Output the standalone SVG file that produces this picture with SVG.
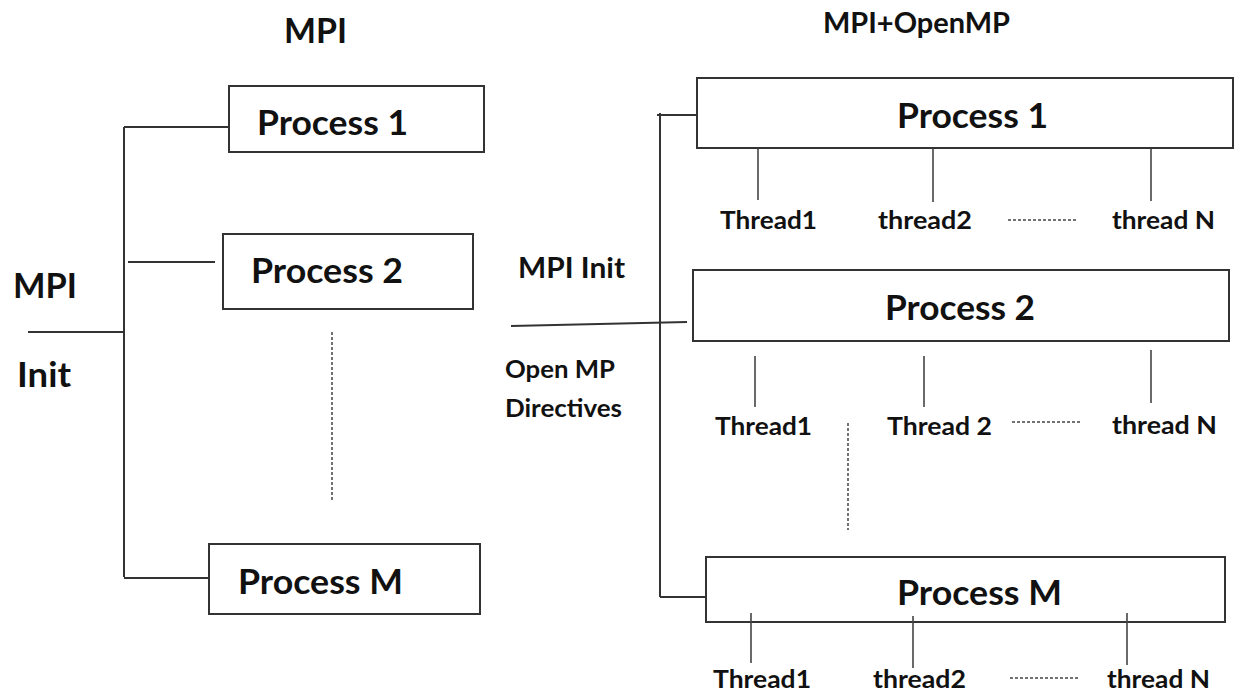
<svg xmlns="http://www.w3.org/2000/svg" width="1238" height="697" viewBox="0 0 1238 697">
<style>
.box{fill:#fff;stroke:#333;stroke-width:2}
.ln{stroke:#333;stroke-width:2;fill:none}
.tk{stroke:#444;stroke-width:1.6;fill:none}
.dash{stroke:#444;stroke-width:1.5;stroke-dasharray:3 2;fill:none}
text{font-family:Lato,"Liberation Sans",sans-serif;font-weight:bold;fill:#111}
.p{font-size:35px}
.big{font-size:34px}
.mid{font-size:29px}
.th{font-size:25px}
</style>
<rect width="1238" height="697" fill="#fff"/>
<g id="connectors">
  <!-- left MPI tree -->
  <line class="ln" x1="124" y1="127" x2="124" y2="577"/>
  <line class="ln" x1="124" y1="127" x2="229" y2="127"/>
  <line class="ln" x1="128" y1="262" x2="215" y2="262"/>
  <line class="ln" x1="124" y1="578" x2="209" y2="578"/>
  <line class="ln" x1="28" y1="332" x2="125" y2="332"/>
  <line class="dash" x1="332" y1="332" x2="332" y2="502"/>
  <!-- right MPI+OpenMP tree -->
  <line class="ln" x1="660" y1="113" x2="660" y2="597"/>
  <line class="ln" x1="657" y1="115" x2="700" y2="115"/>
  <line class="ln" x1="660" y1="597" x2="706" y2="597"/>
  <line class="ln" x1="511" y1="326" x2="687" y2="322"/>
  <line class="dash" x1="848" y1="423" x2="848" y2="530"/>
  <!-- thread ticks process 1 -->
  <line class="tk" x1="758" y1="148" x2="758" y2="200"/>
  <line class="tk" x1="933" y1="148" x2="933" y2="202"/>
  <line class="tk" x1="1151" y1="148" x2="1151" y2="201"/>
  <line class="dash" x1="1008" y1="220" x2="1078" y2="220"/>
  <!-- thread ticks process 2 -->
  <line class="tk" x1="755" y1="356" x2="755" y2="407"/>
  <line class="tk" x1="924" y1="356" x2="924" y2="407"/>
  <line class="tk" x1="1151" y1="350" x2="1151" y2="403"/>
  <line class="dash" x1="1012" y1="422" x2="1080" y2="422"/>
  <!-- thread ticks process M (drawn after box below) -->
  <line class="dash" x1="1010" y1="678" x2="1078" y2="678"/>
</g>
<g id="title-mpi"><text class="big" x="284" y="43" textLength="63" lengthAdjust="spacingAndGlyphs">MPI</text></g>
<g id="title-hybrid"><text class="mid" x="823" y="33" textLength="187" lengthAdjust="spacingAndGlyphs">MPI+OpenMP</text></g>
<g id="label-mpi-init-left">
  <text class="big" x="13" y="298" textLength="64" lengthAdjust="spacingAndGlyphs">MPI</text>
  <text class="big" x="17" y="387" textLength="54" lengthAdjust="spacingAndGlyphs">Init</text>
</g>
<g id="label-mpi-init-right"><text class="mid" x="518" y="278" textLength="107" lengthAdjust="spacingAndGlyphs">MPI Init</text></g>
<g id="label-openmp">
  <text class="th" x="505" y="378" textLength="110" lengthAdjust="spacingAndGlyphs">Open MP</text>
  <text class="th" x="505" y="417" textLength="117" lengthAdjust="spacingAndGlyphs">Directives</text>
</g>
<g id="left-process-1">
  <rect class="box" x="229" y="86" width="255" height="66"/>
  <text class="p" x="257" y="135" textLength="151" lengthAdjust="spacingAndGlyphs">Process 1</text>
</g>
<g id="left-process-2">
  <rect class="box" x="223" y="234" width="250" height="75"/>
  <text class="p" x="251" y="283" textLength="152" lengthAdjust="spacingAndGlyphs">Process 2</text>
</g>
<g id="left-process-m">
  <rect class="box" x="209" y="544" width="271" height="70"/>
  <text class="p" x="238" y="594" textLength="165" lengthAdjust="spacingAndGlyphs">Process M</text>
</g>
<g id="right-process-1">
  <rect class="box" x="697" y="78" width="536" height="70"/>
  <text class="p" x="897" y="128" textLength="151" lengthAdjust="spacingAndGlyphs">Process 1</text>
</g>
<g id="right-process-2">
  <rect class="box" x="693" y="270" width="536" height="71"/>
  <text class="p" x="885" y="320" textLength="150" lengthAdjust="spacingAndGlyphs">Process 2</text>
</g>
<g id="right-process-m">
  <rect class="box" x="706" y="557" width="519" height="65"/>
  <text class="p" x="897" y="605" textLength="165" lengthAdjust="spacingAndGlyphs">Process M</text>
  <line class="tk" x1="751" y1="613" x2="751" y2="663"/>
  <line class="tk" x1="913" y1="616" x2="913" y2="668"/>
  <line class="tk" x1="1127" y1="613" x2="1127" y2="665"/>
</g>
<g id="threads-p1">
  <text class="th" x="720" y="229" textLength="97" lengthAdjust="spacingAndGlyphs">Thread1</text>
  <text class="th" x="878" y="229" textLength="94" lengthAdjust="spacingAndGlyphs">thread2</text>
  <text class="th" x="1112" y="229" textLength="103" lengthAdjust="spacingAndGlyphs">thread N</text>
</g>
<g id="threads-p2">
  <text class="th" x="715" y="435" textLength="97" lengthAdjust="spacingAndGlyphs">Thread1</text>
  <text class="th" x="887" y="435" textLength="105" lengthAdjust="spacingAndGlyphs">Thread 2</text>
  <text class="th" x="1112" y="434" textLength="105" lengthAdjust="spacingAndGlyphs">thread N</text>
</g>
<g id="threads-pm">
  <text class="th" x="713" y="688" textLength="98" lengthAdjust="spacingAndGlyphs">Thread1</text>
  <text class="th" x="873" y="688" textLength="93" lengthAdjust="spacingAndGlyphs">thread2</text>
  <text class="th" x="1107" y="688" textLength="103" lengthAdjust="spacingAndGlyphs">thread N</text>
</g>
</svg>
